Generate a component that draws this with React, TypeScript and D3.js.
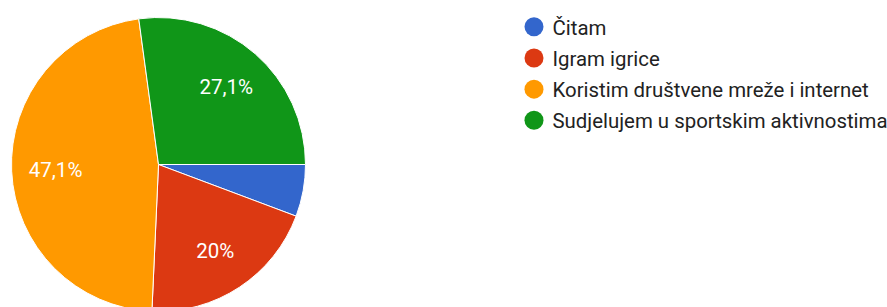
import React from 'react';
import * as d3 from 'd3';

// odgovori (broj ispitanika)
const categories = ['Čitam', 'Igram igrice', 'Koristim društvene mreže i internet', 'Sudjelujem u sportskim aktivnostima'];
const counts = [4, 14, 33, 19];
const colors = ['#3366cc', '#dc3912', '#ff9900', '#109618'];

const width = 887;
const height = 307;

export default function App() {
  const cx = 158.5;
  const cy = 164.5;
  const radius = 147;
  const total = d3.sum(counts);

  const pie = d3.pie<number>()
    .value(d => d)
    .sort(null)
    .startAngle(Math.PI / 2)
    .endAngle(Math.PI / 2 + 2 * Math.PI);
  const arcs = pie(counts);
  const arc = d3.arc<d3.PieArcDatum<number>>().innerRadius(0).outerRadius(radius);
  const labelArc = d3.arc<d3.PieArcDatum<number>>().innerRadius(103).outerRadius(103);

  const fmt = (v: number) => {
    const p = Math.round(v / total * 1000) / 10;
    return String(p).replace('.', ',') + '%';
  };

  const legendY = d3.scalePoint<number>().domain(d3.range(categories.length)).range([26.8, 120.3]);

  return (
    <svg width={width} height={height} style={{ position: 'absolute', left: 0, top: 0, fontFamily: 'Roboto, sans-serif' }}>
      <rect width={width} height={height} fill='#ffffff' />
      <g transform={`translate(${cx},${cy})`}>
        {arcs.map((d, i) => (
          <path key={i} d={arc(d) || ''} fill={colors[i]} stroke='#ffffff' strokeWidth={1} />
        ))}
        {arcs.map((d, i) => {
          if (d.endAngle - d.startAngle < 0.5) return null;
          const [x, y] = labelArc.centroid(d);
          return (
            <text key={i} x={x} y={y} dy='0.36em' textAnchor='middle' fill='#ffffff' fontSize={20.5}>
              {fmt(d.value)}
            </text>
          );
        })}
      </g>
      <g>
        {categories.map((c, i) => (
          <g key={i} transform={`translate(534,${legendY(i)})`}>
            <circle r={9.5} fill={colors[i]} />
            <text x={18.5} dy='0.38em' fontSize={20.4} fill='#222222'>{c}</text>
          </g>
        ))}
      </g>
    </svg>
  );
}
